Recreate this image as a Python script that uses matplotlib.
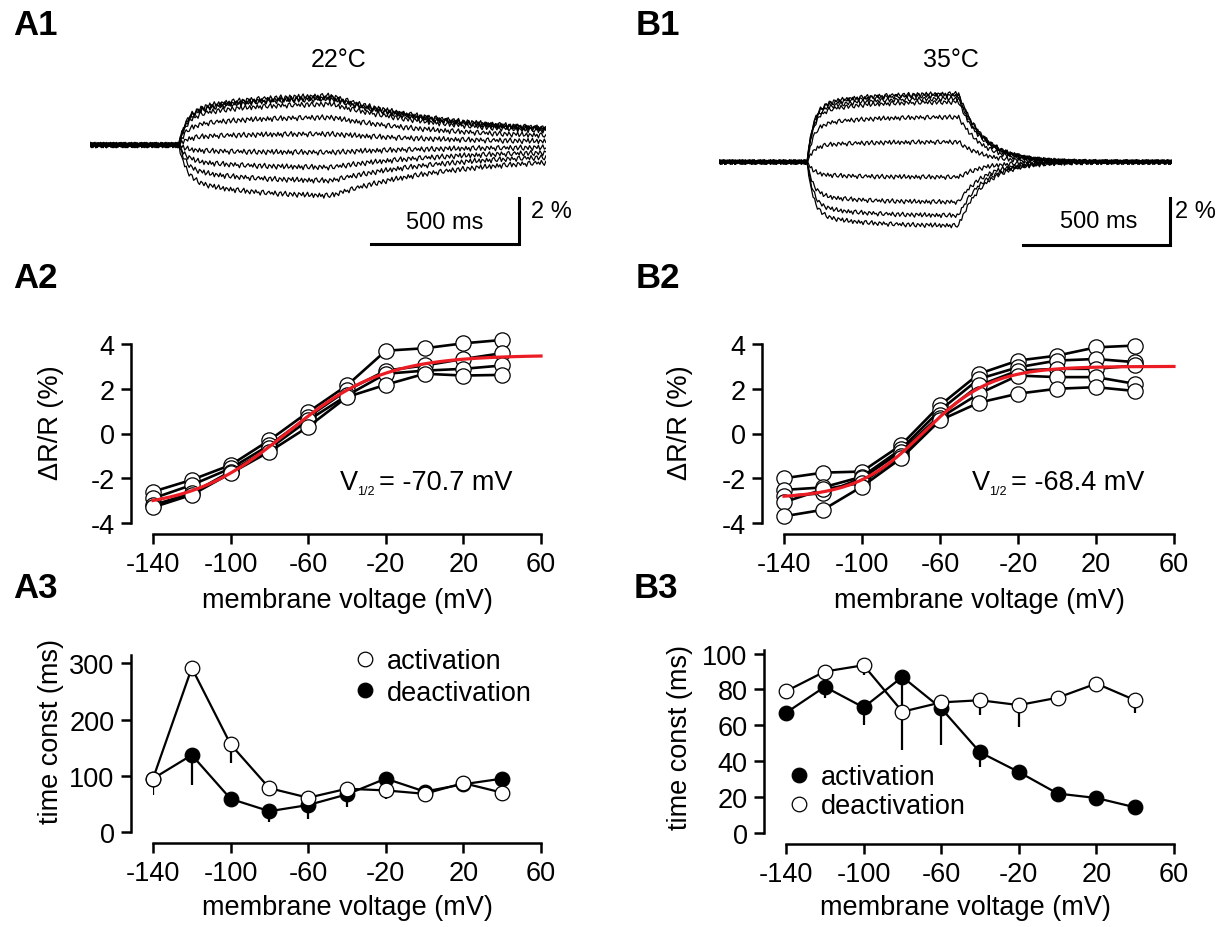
import numpy as np
import matplotlib
matplotlib.use("Agg")
import matplotlib.pyplot as plt
from matplotlib.lines import Line2D

plt.rcParams['font.family'] = ['Liberation Sans', 'DejaVu Sans']
plt.rcParams['axes.unicode_minus'] = False

W, H = 1226, 928

# membrane voltage steps (mV)
volts = [-140, -120, -100, -80, -60, -40, -20, 0, 20, 40]

# A1 / B1: amplitude of each trace at the end of the step (%)
amp_22 = [2.14, 2.05, 2.0, 1.78, 1.2, 0.48, -0.32, -0.97, -1.55, -2.2]
amp_35 = [2.9, 2.84, 2.7, 2.55, 1.91, 0.85, -0.64, -1.7, -2.27, -2.7]
t_on, t_off, t_end = 300, 815, 1540
# trace kinetics (ms)
kin_22 = dict(frac=0.65, tf=25, ts=200, rest=0.22, toff=400)
kin_35 = dict(frac=0.8, tf=20, ts=150, rest=0.0, toff=85)
# wiggle of the baseline (fraction of noise size)
jitter = [0.3, -0.5, 0.8, -0.2, -0.9, 0.4, 0.6, -0.7, 0.1, 0.9, -0.4, -0.8, 0.5, 0.2, -0.6,
          0.7, -0.1, -0.9, 0.6, 0.3, -0.3, 0.8, -0.7, 0.0, 0.9, -0.5, -0.2, 0.6, -0.8, 0.4,
          0.1, -0.6, 0.7, -0.4, 0.3, -0.9, 0.5, 0.8, -0.3, -0.6, 0.2, 0.9, -0.7, 0.4, -0.1,
          -0.8, 0.6, 0.3, -0.5, 0.7, -0.2, 0.1, -0.9, 0.5, 0.8, -0.4, -0.6, 0.2, 0.6, -0.3]
noise_22 = 0.13
noise_35 = 0.11

# A2: dR/R (%) per cell
a2_cells = [
    [-2.6, -2.07, -1.41, -0.3, 0.96, 2.15, 3.7, 3.81, 4.03, 4.18],
    [-2.9, -2.3, -1.56, -0.52, 0.74, 1.93, 2.81, 3.04, 3.33, 3.59],
    [-3.2, -2.67, -1.7, -0.67, 0.59, 1.7, 2.67, 2.81, 2.89, 3.04],
    [-3.3, -2.74, -1.78, -0.81, 0.3, 1.63, 2.18, 2.67, 2.59, 2.62],
]
# B2: dR/R (%) per cell
b2_cells = [
    [-2.0, -1.75, -1.7, -0.52, 1.26, 2.67, 3.26, 3.48, 3.85, 3.93],
    [-2.52, -2.41, -1.93, -0.7, 1.04, 2.44, 2.96, 3.26, 3.33, 3.19],
    [-2.8, -2.67, -2.0, -0.81, 0.81, 2.15, 2.81, 2.89, 2.89, 3.04],
    [-3.07, -2.5, -2.2, -1.0, 0.7, 1.78, 2.59, 2.52, 2.52, 2.22],
    [-3.7, -3.41, -2.37, -1.11, 0.59, 1.38, 1.78, 2.0, 2.07, 1.9],
]
# Boltzmann fits: bottom, top, V1/2, slope
fit_22 = (-3.4, 3.5, -70.7, 25.0)
fit_35 = (-2.9, 3.0, -68.4, 17.5)

# A3: time constants (ms) and downward error
a3_act = [95, 292, 156, 78, 61, 77, 74, 68, 87, 70]
a3_act_err = [30, 0, 34, 12, 0, 8, 15, 0, 0, 14]
a3_deact = [95, 137, 59, 37, 48, 67, 95, 72, 85, 95]
a3_deact_err = [0, 54, 5, 19, 24, 22, 0, 0, 0, 5]
# B3
b3_act = [67, 81.5, 70, 87, 69.5, 45, 34, 22, 19.5, 14.3]
b3_act_err = [4, 6.5, 10, 41, 20.5, 8, 2, 2, 2, 2]
b3_deact = [79, 90, 93.5, 67.6, 72.8, 74, 71.3, 75.4, 83.3, 74]
b3_deact_err = [4.5, 2, 5.5, 0, 0, 8, 12, 2, 3, 7]

FS = 19.5

fig = plt.figure(figsize=(12.26, 9.28), dpi=100)


def add_ax(l, t, r, b):
    return fig.add_axes([l / W, 1 - b / H, (r - l) / W, (b - t) / H])


def ftext(x, y, s, **kw):
    fig.text(x / W, 1 - y / H, s, **kw)


def trace(amp, kin, k, noise):
    t = np.arange(0, t_end + 1, 5.0)
    dt = np.clip(t - t_on, 0, None)
    on = kin['frac'] * (1 - np.exp(-dt / kin['tf'])) + (1 - kin['frac']) * (1 - np.exp(-dt / kin['ts']))
    d_end = t_off - t_on
    on_end = kin['frac'] * (1 - np.exp(-d_end / kin['tf'])) + (1 - kin['frac']) * (1 - np.exp(-d_end / kin['ts']))
    shape = on / on_end
    after = t > t_off
    doff = t[after] - t_off
    shape[after] = kin['rest'] + (1 - kin['rest']) * np.exp(-doff / kin['toff'])
    wig = np.roll(np.resize(np.array(jitter), len(t)), 7 * k)
    return t, amp * shape + noise * wig


def draw_traces(ax, amps, kin, noise, sb_x, sb_y, lbl_500, lbl_2):
    for k, a in enumerate(amps):
        t, y = trace(a, kin, k, noise)
        ax.plot(t, y, color='black', lw=0.9)
    ax.plot([sb_x - 500, sb_x, sb_x], [sb_y, sb_y, sb_y + 2], color='black', lw=2.2,
            solid_joinstyle='miter', clip_on=False)
    ax.text(lbl_500[0], lbl_500[1], '500 ms', ha='center', va='center', fontsize=17)
    ax.text(lbl_2[0], lbl_2[1], '2 %', ha='left', va='center', fontsize=17)
    ax.set_xlim(0, t_end)
    ax.axis('off')


def boltz(v, p):
    bottom, top, vh, k = p
    return bottom + (top - bottom) / (1 + np.exp((vh - v) / k))


def style(ax, ylim, yticks):
    ax.set_xlim(-140, 60)
    ax.set_ylim(*ylim)
    ax.set_yticks(yticks)
    ax.set_xticks([-140, -100, -60, -20, 20, 60])
    for s in ['top', 'right']:
        ax.spines[s].set_visible(False)
    ax.spines['left'].set_position(('outward', 15.5))
    ax.spines['bottom'].set_position(('outward', 8))
    for s in ['left', 'bottom']:
        ax.spines[s].set_linewidth(1.8)
    ax.tick_params(direction='out', length=7.2, width=1.8, labelsize=FS, pad=5)
    ax.set_xlabel('membrane voltage (mV)', fontsize=FS)


# ---- A1 / B1 traces
ax = add_ax(90, 80, 545.8, 255)
ax.set_ylim(-4.74, 2.87)
draw_traces(ax, amp_22, kin_22, noise_22, 1449, -4.30, (1199, -3.35), (1490, -2.87))
ax = add_ax(719, 80, 1171.8, 255)
ax.set_ylim(-3.91, 3.53)
draw_traces(ax, amp_35, kin_35, noise_35, 1534, -3.53, (1293, -2.51), (1551, -2.09))
ftext(339, 67, '22°C', ha='center', va='baseline', fontsize=18)
ftext(951, 67, '35°C', ha='center', va='baseline', fontsize=18)

# ---- A2 / B2
vfit = np.linspace(-140, 60, 300)
for (l, r, cells, fit, vx, vtxt, lab_x) in [
        (153, 541, a2_cells, fit_22, 340, '= -70.7 mV', 64),
        (784, 1174, b2_cells, fit_35, 972, '= -68.4 mV', 693)]:
    ax = add_ax(l, 345, r, 524)
    for c in cells:
        ax.plot(volts, c, color='black', lw=1.9, marker='o', ms=11, mfc='white',
                mec='black', mew=0.9, clip_on=False, zorder=3)
    ax.plot(vfit, boltz(vfit, fit), color='#ec1c24', lw=2.3, zorder=4, clip_on=False)
    style(ax, (-4, 4), [-4, -2, 0, 2, 4])
    ax.set_ylabel('ΔR/R (%)', fontsize=FS)
    ax.yaxis.set_label_coords(lab_x / W, 1 - 423 / H, transform=fig.transFigure)
    ax.xaxis.set_label_coords((l + r) / 2 / W, 1 - 588 / H, transform=fig.transFigure)
    ftext(vx, 490, 'V', fontsize=FS, va='baseline')
    ftext(vx + 17, 495, '1/2', fontsize=9, va='baseline')
    ftext(vx + 39, 490, vtxt, fontsize=FS, va='baseline')

h_open = Line2D([], [], ls='none', marker='o', ms=10.5, mfc='white', mec='black', mew=0.9)
h_fill = Line2D([], [], ls='none', marker='o', ms=10.5, mfc='black', mec='black', mew=0.9)

# ---- A3
ax = add_ax(153, 656, 541, 833)
ax.errorbar(volts, a3_deact, yerr=[a3_deact_err, [0] * 10], fmt='none', ecolor='black',
            elinewidth=1.6, capsize=0, zorder=1)
ax.errorbar(volts, a3_act, yerr=[a3_act_err, [0] * 10], fmt='none', ecolor='black',
            elinewidth=1.6, capsize=0, zorder=1)
ax.plot(volts, a3_deact, color='black', lw=1.6, marker='o', ms=10.5, mfc='black', mec='black',
        mew=0.9, zorder=2, clip_on=False)
ax.plot(volts, a3_act, color='black', lw=1.6, marker='o', ms=10.5, mfc='white', mec='black',
        mew=0.9, zorder=3, clip_on=False)
style(ax, (0, 315), [0, 100, 200, 300])
ax.set_ylabel('time const (ms)', fontsize=FS)
ax.yaxis.set_label_coords(64 / W, 1 - 731 / H, transform=fig.transFigure)
ax.xaxis.set_label_coords(347 / W, 1 - 895 / H, transform=fig.transFigure)
ax.legend([h_open, h_fill], ['activation', 'deactivation'], loc='upper left',
          bbox_to_anchor=(354 / W, 1 - 649 / H), bbox_transform=fig.transFigure,
          frameon=False, fontsize=FS, handlelength=0.8, handletextpad=0.4,
          labelspacing=0.22, borderpad=0, borderaxespad=0)

# ---- B3
ax = add_ax(786, 651, 1174, 834)
ax.errorbar(volts, b3_act, yerr=[b3_act_err, [0] * 10], fmt='none', ecolor='black',
            elinewidth=1.6, capsize=0, zorder=1)
ax.errorbar(volts, b3_deact, yerr=[b3_deact_err, [0] * 10], fmt='none', ecolor='black',
            elinewidth=1.6, capsize=0, zorder=1)
ax.plot(volts, b3_act, color='black', lw=1.6, marker='o', ms=10.5, mfc='black', mec='black',
        mew=0.9, zorder=2, clip_on=False)
ax.plot(volts, b3_deact, color='black', lw=1.6, marker='o', ms=10.5, mfc='white', mec='black',
        mew=0.9, zorder=3, clip_on=False)
style(ax, (0, 102), [0, 20, 40, 60, 80, 100])
ax.set_ylabel('time const (ms)', fontsize=FS)
ax.yaxis.set_label_coords(693 / W, 1 - 737 / H, transform=fig.transFigure)
ax.xaxis.set_label_coords(965 / W, 1 - 895 / H, transform=fig.transFigure)
ax.legend([h_fill, h_open], ['activation', 'deactivation'], loc='upper left',
          bbox_to_anchor=(788 / W, 1 - 765 / H), bbox_transform=fig.transFigure,
          frameon=False, fontsize=FS, handlelength=0.8, handletextpad=0.4,
          labelspacing=0.12, borderpad=0, borderaxespad=0)

# panel labels
for s, x, y in [('A1', 13, 35), ('A2', 13, 288), ('A3', 13, 598),
                ('B1', 636, 35), ('B2', 636, 288), ('B3', 634, 598)]:
    ftext(x, y, s, fontsize=25, fontweight='bold', va='baseline')

plt.savefig('out.png', dpi=100)
